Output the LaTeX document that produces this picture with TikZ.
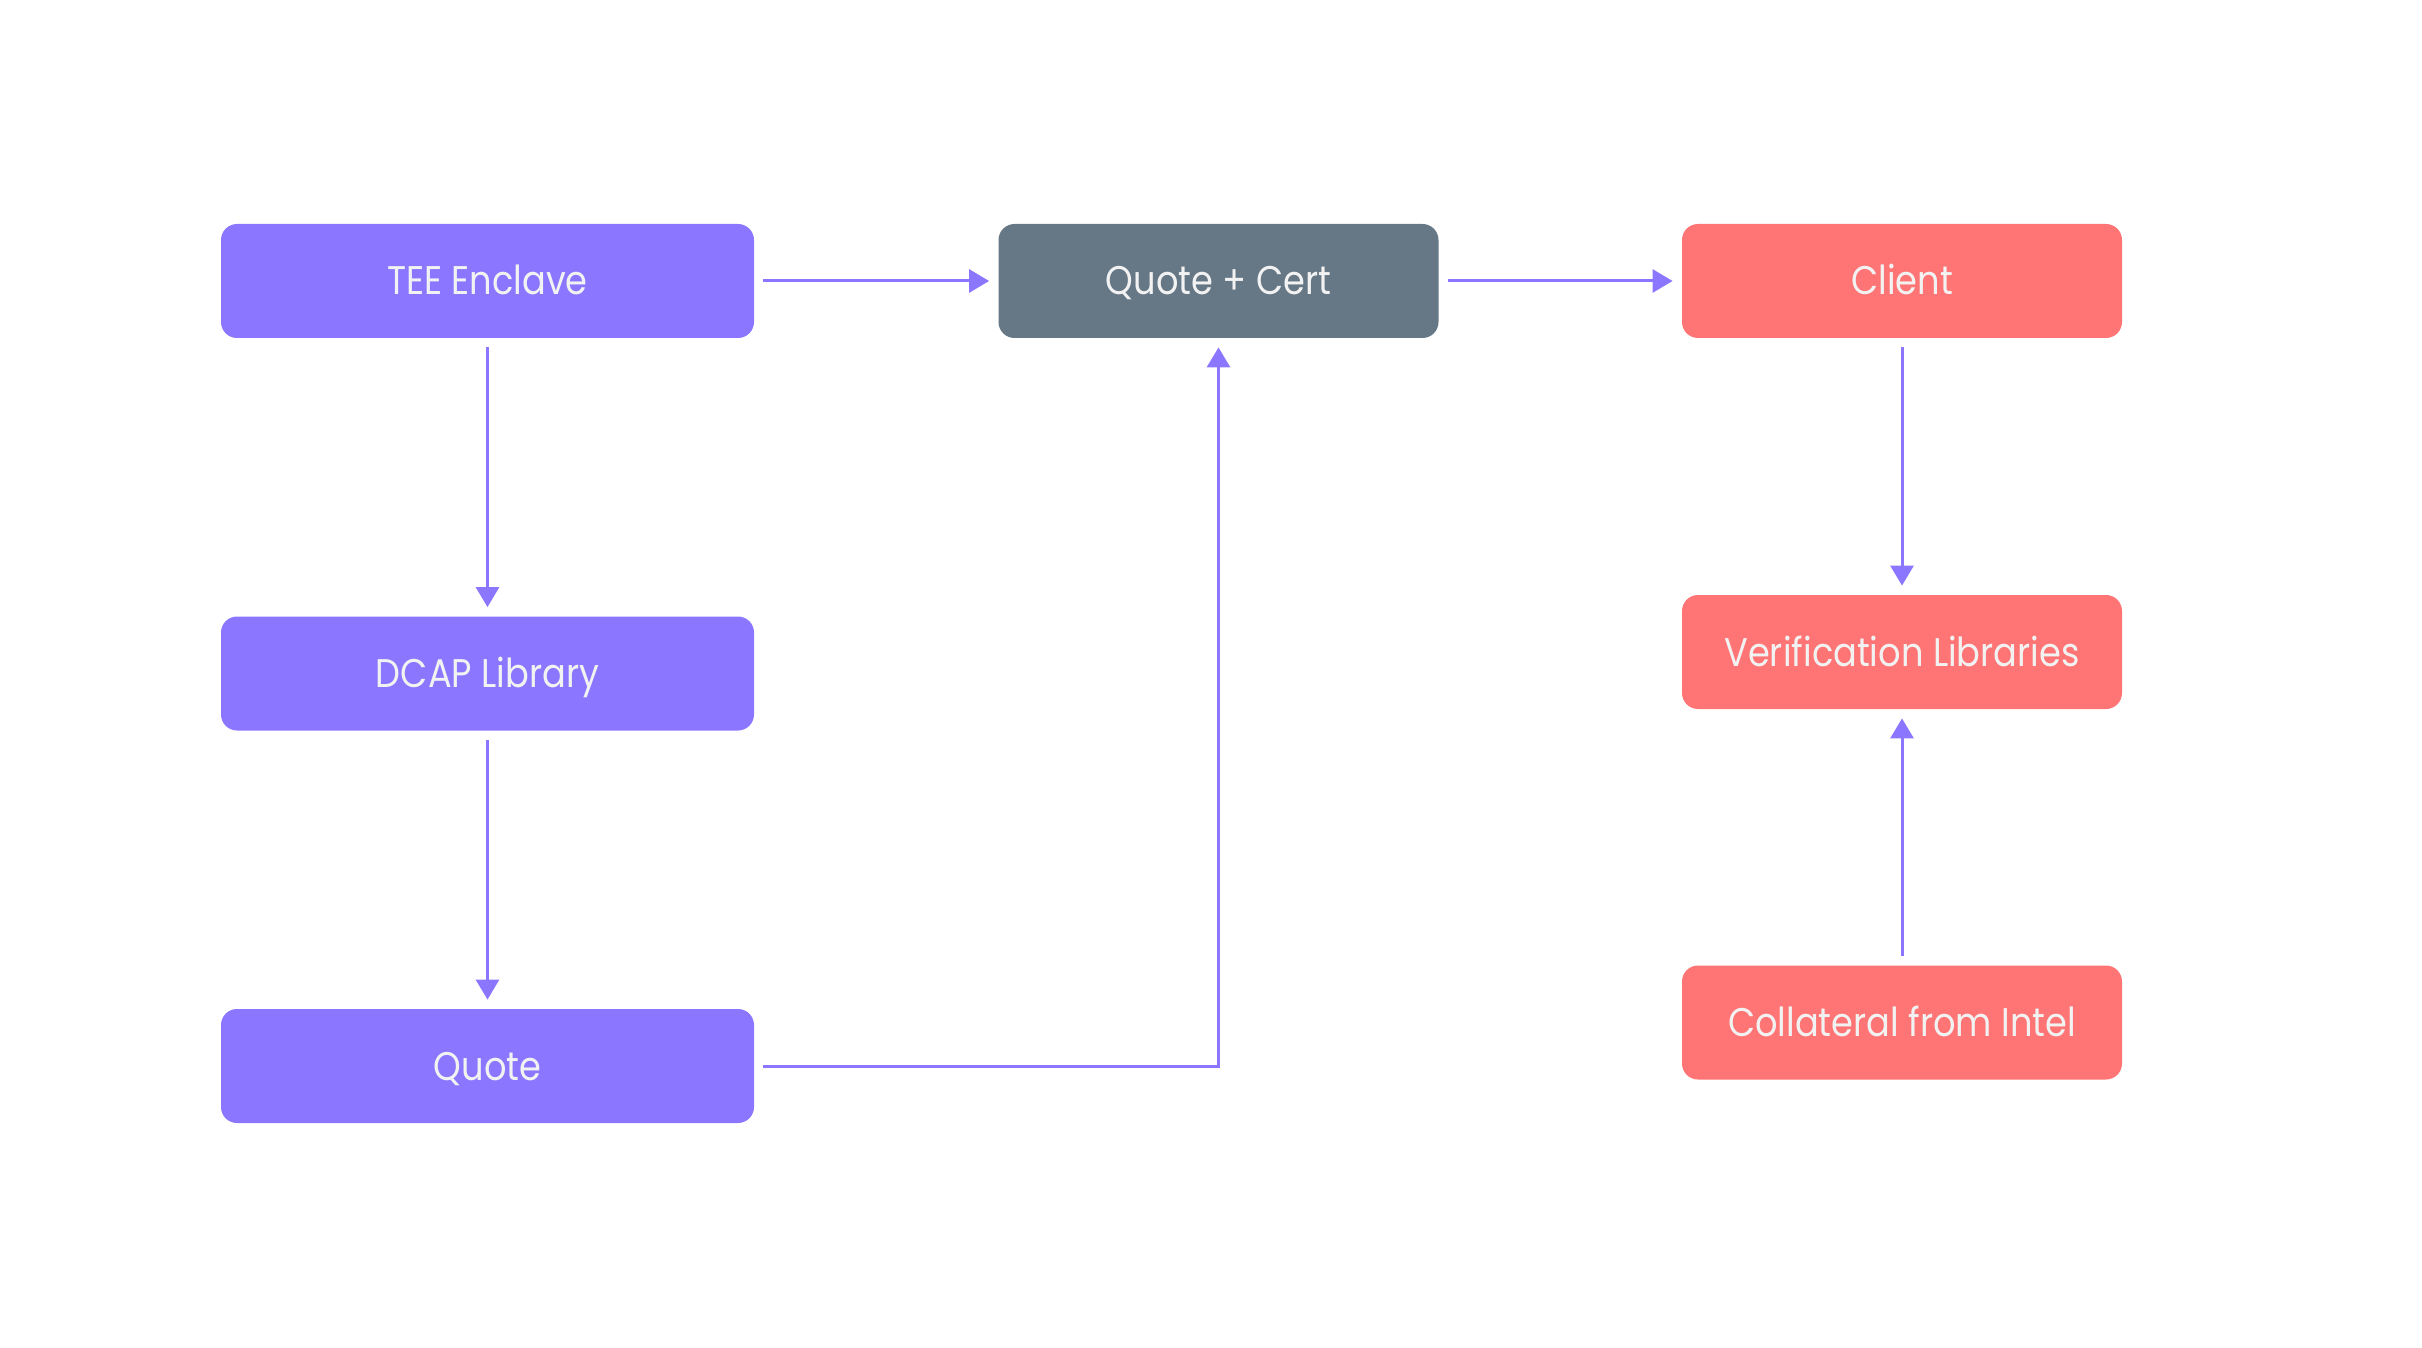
\documentclass[tikz,border=0pt]{standalone}
\usepackage{fontspec}
\setmainfont[FakeStretch=0.88]{Poppins}
\usetikzlibrary{arrows.meta}
\definecolor{violet}{HTML}{8A76FF}
\definecolor{slate}{HTML}{667785}
\definecolor{coral}{HTML}{FF7474}
\definecolor{label}{HTML}{F2F2F2}
\tikzset{
  box/.style={rounded corners=8pt, minimum height=57pt, inner sep=0pt,
    text=label, font=\fontsize{20}{24}\selectfont,
    text height=17pt, text depth=3pt},
  wide/.style={box, minimum width=266.5pt},
  narrow/.style={box, minimum width=220pt},
  purplebox/.style={wide, fill=violet},
  slatebox/.style={narrow, fill=slate},
  coralbox/.style={narrow, fill=coral},
  flow/.style={draw=violet, line width=1.5pt,
    -{Triangle[length=10pt,width=11.5pt]}, shorten <=4.5pt, shorten >=4.5pt}
}
\begin{document}
\begin{tikzpicture}[x=0.5pt, y=-0.5pt]
  \useasboundingbox (0,0) rectangle (2422,1348);
  \node[purplebox] (tee)   at (487.5,281)   {TEE Enclave};
  \node[purplebox] (dcap)  at (487.5,673.5) {DCAP Library};
  \node[purplebox] (quote) at (487.5,1066)  {Quote};
  \node[slatebox]  (qc)    at (1218.5,281)  {Quote + Cert};
  \node[coralbox]  (client) at (1902,281)   {Client};
  \node[coralbox]  (verif)  at (1902,652)   {Verification Libraries};
  \node[coralbox]  (coll)   at (1902,1022.5) {Collateral from Intel};

  \draw[flow] (tee) -- (qc);
  \draw[flow] (qc) -- (client);
  \draw[flow] (tee) -- (dcap);
  \draw[flow] (dcap) -- (quote);
  \draw[flow] (quote.east) -| (qc.south);
  \draw[flow] (client) -- (verif);
  \draw[flow] (coll) -- (verif);
\end{tikzpicture}
\end{document}
